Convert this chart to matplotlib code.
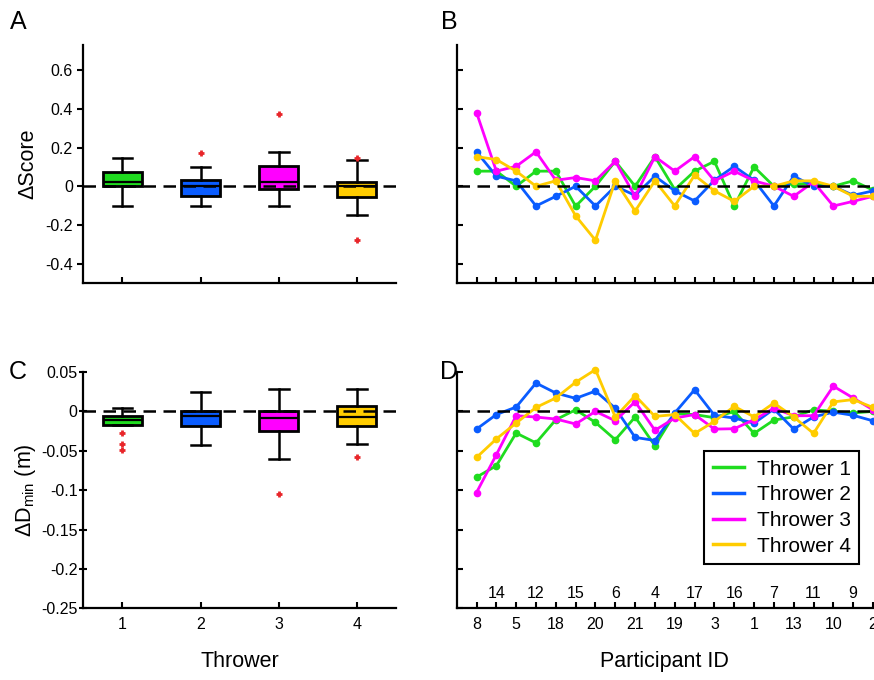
import numpy as np
import matplotlib.pyplot as plt
import matplotlib.transforms as mtransforms
from matplotlib.lines import Line2D

plt.rcParams['font.family'] = ['Liberation Sans', 'DejaVu Sans']
plt.rcParams['axes.unicode_minus'] = False

colors = ['#1fdc1f', '#0a5cff', '#ff00ff', '#ffcc00']
throwers = [1, 2, 3, 4]
participants = [8, 14, 5, 12, 18, 15, 20, 6, 21, 4, 19, 17, 3, 16, 1, 7, 13, 11, 10, 9, 2]

# box plot summaries, delta score
score_med = [0.022, 0.0, 0.022, 0.0]
score_q1 = [0.0, -0.05, -0.012, -0.057]
score_q3 = [0.074, 0.031, 0.103, 0.024]
score_wlo = [-0.1, -0.1, -0.1, -0.148]
score_whi = [0.148, 0.1, 0.176, 0.134]
score_fliers = [[], [0.174], [0.374], [0.148, -0.278]]

# box plot summaries, delta Dmin
dmin_med = [-0.0114, -0.0055, -0.0085, -0.0072]
dmin_q1 = [-0.017, -0.019, -0.0246, -0.018]
dmin_q3 = [-0.0055, 0.0, 0.0, 0.0068]
dmin_wlo = [-0.017, -0.043, -0.061, -0.042]
dmin_whi = [0.0042, 0.025, 0.028, 0.028]
dmin_fliers = [[-0.028, -0.042, -0.049], [], [-0.105], [-0.058]]

# per participant, delta score
score_t1 = [0.078, 0.078, 0.0, 0.078, 0.078, -0.103, 0.0, 0.129, 0.0, 0.153, -0.017,
            0.078, 0.129, -0.103, 0.10, 0.0, 0.012, 0.014, 0.0, 0.028, -0.02]
score_t2 = [0.178, 0.052, 0.028, -0.102, -0.052, 0.0, -0.102, 0.0, -0.047, 0.052, -0.024,
            -0.076, 0.031, 0.103, 0.031, -0.102, 0.052, 0.0, 0.0, -0.047, -0.024]
score_t3 = [0.381, 0.078, 0.103, 0.178, 0.031, 0.045, 0.028, 0.129, -0.052, 0.153, 0.078,
            0.153, 0.028, 0.078, 0.028, 0.0, -0.052, 0.022, -0.102, -0.078, -0.052]
score_t4 = [0.153, 0.138, 0.078, 0.0, 0.028, -0.153, -0.279, 0.028, -0.128, 0.028, -0.102,
            0.057, -0.024, -0.078, 0.0, 0.0, 0.028, 0.028, 0.0, -0.052, -0.052]

# per participant, delta Dmin
dmin_t1 = [-0.0835, -0.069, -0.0275, -0.040, -0.0106, 0.002, -0.014, -0.036, -0.0072, -0.0436, -0.003,
           -0.004, -0.008, 0.0, -0.028, -0.011, -0.007, 0.002, 0.0, -0.002, 0.0]
dmin_t2 = [-0.0225, -0.004, 0.0055, 0.036, 0.0233, 0.0165, 0.0258, 0.004, -0.033, -0.037, -0.002,
           0.0275, -0.005, -0.0085, -0.015, 0.003, -0.0225, -0.007, -0.001, -0.005, -0.012]
dmin_t3 = [-0.103, -0.055, -0.0055, -0.0072, -0.0097, -0.016, 0.0, -0.012, 0.0123, -0.024, -0.0085,
           -0.004, -0.0225, -0.022, -0.0106, 0.004, -0.0055, -0.0055, 0.032, 0.017, 0.002]
dmin_t4 = [-0.0585, -0.035, -0.0148, 0.005, 0.017, 0.037, 0.053, -0.0072, 0.02, -0.0064, -0.004,
           -0.028, -0.0127, 0.0064, -0.007, 0.0106, -0.007, -0.028, 0.012, 0.015, 0.005]

W, H = 874, 680
fig = plt.figure(figsize=(W / 100, H / 100), dpi=100)


def box(l, t, r, b):
    return fig.add_axes([l / W, 1 - b / H, (r - l) / W, (b - t) / H])


axA = box(83.3, 45, 396, 283)
axB = box(456.7, 45, 873, 283)
axC = box(83.3, 372, 396, 608.3)
axD = box(456.7, 372, 873, 608.3)

dash = (0, (5, 3))
tfs = 11.5   # tick label size
lfs = 15.5   # axis label size


def style(ax):
    for s in ['top', 'right']:
        ax.spines[s].set_visible(False)
    for s in ['left', 'bottom']:
        ax.spines[s].set_linewidth(1.6)
    ax.tick_params(axis='x', direction='in', length=4, width=1.5, labelsize=tfs, pad=6)


def boxes(ax, med, q1, q3, wlo, whi, fl):
    stats = []
    for i in range(4):
        stats.append(dict(med=med[i], q1=q1[i], q3=q3[i], whislo=wlo[i], whishi=whi[i],
                          fliers=fl[i]))
    bp = ax.bxp(stats, positions=throwers, widths=0.5, patch_artist=True, capwidths=0.25,
                boxprops=dict(edgecolor='black', linewidth=2),
                medianprops=dict(color='black', linewidth=1.6),
                whiskerprops=dict(color='black', linewidth=1.8),
                capprops=dict(color='black', linewidth=1.8),
                flierprops=dict(marker='+', markeredgecolor='#e8262a', markersize=5,
                                markeredgewidth=2))
    for patch, c in zip(bp['boxes'], colors):
        patch.set_facecolor(c)
    ax.set_xlim(0.5, 4.5)
    ax.set_xticks(throwers)
    ax.axhline(0, color='black', ls=dash, lw=1.8, zorder=5)


def fmt(v):
    return '%g' % v


# A
style(axA)
boxes(axA, score_med, score_q1, score_q3, score_wlo, score_whi, score_fliers)
axA.set_ylim(-0.5, 0.73)
yt = [-0.4, -0.2, 0, 0.2, 0.4, 0.6]
axA.set_yticks(yt)
axA.set_yticklabels([fmt(v) for v in yt])
axA.set_xticklabels([])
axA.tick_params(axis='y', direction='out', length=4.5, width=1.5, labelsize=tfs, pad=3)
axA.set_ylabel('ΔScore', fontsize=lfs)
axA.yaxis.set_label_coords(-0.145, 0.5)

# C
style(axC)
boxes(axC, dmin_med, dmin_q1, dmin_q3, dmin_wlo, dmin_whi, dmin_fliers)
axC.set_ylim(-0.25, 0.05)
yt2 = [-0.25, -0.2, -0.15, -0.1, -0.05, 0, 0.05]
axC.set_yticks(yt2)
axC.set_yticklabels([fmt(v) for v in yt2])
axC.tick_params(axis='y', direction='inout', length=6, width=1.5, labelsize=tfs, pad=1)
axC.set_ylabel('ΔD$_{\\mathregular{min}}$ (m)', fontsize=lfs)
axC.yaxis.set_label_coords(-0.145, 0.5)
axC.set_xlabel('Thrower', fontsize=lfs)
axC.xaxis.set_label_coords(0.5, -0.181)

# B and D
xs = np.arange(1, len(participants) + 1)
for ax, series, ylim, ticks in [
        (axB, [score_t1, score_t2, score_t3, score_t4], (-0.5, 0.73), yt),
        (axD, [dmin_t1, dmin_t2, dmin_t3, dmin_t4], (-0.25, 0.05), yt2)]:
    style(ax)
    for s, c in zip(series, colors):
        ax.plot(xs, s, '-o', color=c, lw=2, markersize=4.5, clip_on=False, zorder=3)
    ax.axhline(0, color='black', ls=dash, lw=1.8, zorder=5)
    ax.set_xlim(0, 21)
    ax.set_ylim(*ylim)
    ax.set_yticks(ticks)
    ax.set_yticklabels([])
    ax.tick_params(axis='y', direction='in', length=4.5, width=1.5)
    ax.set_xticks(xs)

axB.set_xticklabels([])
axD.set_xticklabels([str(p) if i % 2 == 0 else '' for i, p in enumerate(participants)])
trans = mtransforms.blended_transform_factory(axD.transData, axD.transAxes)
for i, p in enumerate(participants):
    if i % 2 == 1:
        axD.text(xs[i], 0.064, str(p), transform=trans, ha='center', va='center', fontsize=tfs)
axD.set_xlabel('Participant ID', fontsize=lfs)
axD.xaxis.set_label_coords(0.5, -0.181)

handles = [Line2D([], [], color=c, lw=2.5) for c in colors]
leg = axD.legend(handles, ['Thrower %d' % t for t in throwers], loc='lower right',
                 bbox_to_anchor=(0.966, 0.187), borderaxespad=0, fontsize=15,
                 fancybox=False, edgecolor='black', framealpha=1, handlelength=1.5,
                 handletextpad=0.6, labelspacing=0.32, borderpad=0.4)
leg.get_frame().set_linewidth(1.5)

for lab, x, y in [('A', 18, 22), ('B', 449, 22), ('C', 18, 372), ('D', 449, 372)]:
    fig.text(x / W, 1 - y / H, lab, fontsize=18, ha='center', va='center')

fig.savefig('out.png', dpi=100)
